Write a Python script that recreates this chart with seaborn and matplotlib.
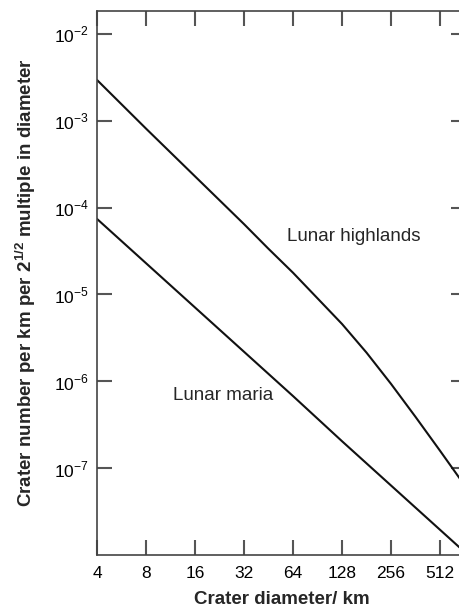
import numpy as np
import pandas as pd
import matplotlib
matplotlib.use("Agg")
import matplotlib.pyplot as plt
import seaborn as sns

# crater diameters (km) and log10 of crater number per km per 2^1/2 multiple
hl_diam = [4, 8, 16, 32, 45, 64, 90, 128, 181, 256, 362, 512, 739]
hl_log = [-2.53, -3.09, -3.64, -4.19, -4.47, -4.75, -5.04, -5.34, -5.67,
          -6.03, -6.41, -6.80, -7.22]
ma_diam = [4, 8, 16, 32, 64, 128, 256, 512, 739]
ma_log = [-4.13, -4.64, -5.15, -5.66, -6.17, -6.69, -7.20, -7.71, -7.98]

xticks = [4, 8, 16, 32, 64, 128, 256, 512]
yticks = [1e-7, 1e-6, 1e-5, 1e-4, 1e-3, 1e-2]

sns.set_style("ticks")
plt.rcParams["font.family"] = ["Liberation Sans", "DejaVu Sans"]
plt.rcParams["mathtext.fontset"] = "custom"
plt.rcParams["mathtext.rm"] = "Liberation Sans"
plt.rcParams["mathtext.bf"] = "Liberation Sans:bold"

df = pd.DataFrame({
    "diam": hl_diam + ma_diam,
    "n": list(10 ** np.array(hl_log)) + list(10 ** np.array(ma_log)),
    "surface": ["Lunar highlands"] * len(hl_diam) + ["Lunar maria"] * len(ma_diam),
})

fig = plt.figure(figsize=(4.59, 6.13), dpi=100)
ax = fig.add_axes([97 / 459, 1 - 555 / 613, 369 / 459, 544 / 613])
ax.set_xscale("log", base=2)
ax.set_yscale("log")

sns.lineplot(data=df, x="diam", y="n", units="surface", estimator=None,
             color="#111111", linewidth=1.5, ax=ax, legend=False)

ax.set_xlim(4, 739)
ax.set_ylim(1e-8, 10 ** -1.736)
ax.set_xticks(xticks)
ax.set_xticklabels([str(t) for t in xticks])
ax.set_yticks(yticks)
ax.set_yticklabels([r"10$^{%d}$" % int(np.log10(t)) for t in yticks])
ax.minorticks_off()

for s in ["left", "bottom", "top"]:
    ax.spines[s].set_color("#444444")
    ax.spines[s].set_linewidth(1.2)
ax.spines["right"].set_visible(False)

ax.xaxis.set_ticks_position("both")
ax.yaxis.set_ticks_position("both")
ax.tick_params(axis="both", which="major", direction="in", length=11, width=1.5,
               color="#555555", labelsize=12.5, labelcolor="black")
ax.tick_params(axis="x", pad=8)
ax.tick_params(axis="y", pad=6)
for t in ax.xaxis.get_major_ticks() + ax.yaxis.get_major_ticks():
    t.tick1line.set_visible(True)
    t.tick1line.set_zorder(5)

ax.text(58.8, 10 ** -4.333, "Lunar highlands", fontsize=13.5, ha="left", va="center")
ax.text(11.7, 10 ** -6.169, "Lunar maria", fontsize=13.5, ha="left", va="center")

ax.set_xlabel("Crater diameter/ km", fontsize=13.5, fontweight="bold", labelpad=7)
ax.set_ylabel(r"Crater number per km per 2$^{\mathbf{1/2}}$ multiple in diameter",
              fontsize=13.5, fontweight="bold", labelpad=11)

fig.savefig("out.png", dpi=100)
